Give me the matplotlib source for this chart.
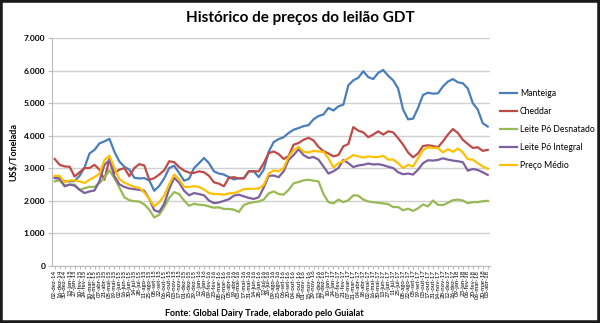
import datetime as dt
import matplotlib
matplotlib.use("Agg")
import matplotlib.pyplot as plt
from matplotlib.patches import Rectangle
from matplotlib.ticker import FuncFormatter

plt.rcParams['font.family'] = ['Lato', 'DejaVu Sans']

# precos por leilao (US$/t)
manteiga = [2720, 2690, 2590, 2590, 2600, 2760, 3020, 3450, 3560, 3760,
            3820, 3900, 3500, 3200, 3040, 2950, 2700, 2680, 2690, 2620,
            2300, 2450, 2680, 3000, 3070, 2850, 2610, 2670, 3000, 3150,
            3310, 3150, 2900, 2830, 2800, 2720, 2650, 2690, 2690, 2900,
            2900, 2720, 2950, 3500, 3800, 3890, 3950, 4080, 4180, 4230,
            4290, 4320, 4500, 4600, 4650, 4850, 4770, 4900, 4950, 5550,
            5700, 5780, 5980, 5800, 5740, 5930, 6020, 5840, 5700, 5450,
            4800, 4500, 4520, 4850, 5250, 5320, 5290, 5300, 5510, 5660,
            5740, 5640, 5610, 5450, 5000, 4800, 4380, 4280]
cheddar = [3280, 3100, 3050, 3040, 2740, 2870, 3000, 3000, 3100, 2950,
           2640, 3280, 2850, 2950, 3000, 2750, 3000, 3120, 3080, 2640,
           2690, 2800, 2930, 3210, 3180, 3030, 2920, 2860, 2850, 2900,
           2870, 2760, 2560, 2520, 2440, 2700, 2720, 2680, 2680, 2900,
           2900, 2900, 3150, 3460, 3510, 3430, 3280, 3370, 3720, 3770,
           3870, 3930, 3850, 3650, 3520, 3450, 3360, 3400, 3670, 3740,
           4260, 4150, 4100, 3950, 4030, 4130, 4030, 4130, 4100, 3920,
           3720, 3480, 3330, 3450, 3680, 3700, 3680, 3640, 3820, 4030,
           4200, 4080, 3870, 3740, 3620, 3640, 3530, 3560]
lpo_desnatado = [2590, 2620, 2460, 2490, 2490, 2330, 2380, 2420, 2420, 2540,
                 2700, 2930, 2690, 2400, 2100, 2010, 1980, 1970, 1880, 1720,
                 1480, 1560, 1800, 2080, 2260, 2200, 2000, 1840, 1900, 1870,
                 1860, 1820, 1780, 1790, 1740, 1740, 1720, 1650, 1860, 1920,
                 1950, 1970, 2030, 2220, 2280, 2200, 2180, 2330, 2530, 2570,
                 2620, 2640, 2610, 2590, 2200, 1950, 1910, 2030, 1950, 2010,
                 2160, 2150, 2030, 1970, 1950, 1930, 1910, 1890, 1800, 1800,
                 1700, 1750, 1680, 1760, 1880, 1820, 2000, 1870, 1860, 1930,
                 2010, 2030, 2000, 1920, 1950, 1950, 1980, 1990]
lpo_integral = [2690, 2670, 2440, 2490, 2460, 2330, 2230, 2280, 2310, 2600,
                3100, 3240, 2750, 2500, 2420, 2370, 2350, 2330, 2300, 2050,
                1700, 1650, 1900, 2350, 2700, 2550, 2300, 2160, 2230, 2200,
                2160, 2000, 1920, 1940, 1990, 2040, 2150, 2180, 2130, 2080,
                2050, 2100, 2400, 2760, 2770, 2720, 2900, 3250, 3400, 3580,
                3400, 3310, 3340, 3260, 3050, 2830, 2900, 3000, 3250, 3150,
                3030, 3080, 3100, 3140, 3110, 3120, 3090, 3040, 3000, 2870,
                2810, 2830, 2800, 2950, 3150, 3240, 3230, 3250, 3300, 3260,
                3230, 3210, 3180, 2920, 2970, 2940, 2870, 2790]
preco_medio = [2760, 2760, 2560, 2620, 2620, 2590, 2540, 2640, 2720, 2830,
               3250, 3380, 3000, 2660, 2550, 2480, 2420, 2390, 2250, 2050,
               1820, 1950, 2150, 2500, 2800, 2650, 2420, 2420, 2440, 2420,
               2340, 2230, 2200, 2200, 2180, 2220, 2230, 2280, 2350, 2360,
               2360, 2370, 2480, 2830, 2930, 2900, 3000, 3350, 3550, 3650,
               3500, 3480, 3530, 3510, 3500, 3300, 3020, 3150, 3210, 3300,
               3400, 3360, 3320, 3360, 3340, 3340, 3380, 3260, 3260, 3150,
               3000, 3100, 3050, 3300, 3550, 3640, 3620, 3620, 3480, 3580,
               3500, 3600, 3480, 3270, 3260, 3150, 3050, 2980]

series = [("Manteiga", manteiga, "#4A7EBB"),
          ("Cheddar", cheddar, "#BE4B48"),
          ("Leite Pó Desnatado", lpo_desnatado, "#98B954"),
          ("Leite Pó Integral", lpo_integral, "#7D60A0"),
          ("Preço Médio", preco_medio, "#FFC000")]

# datas dos leiloes (quinzenais)
meses = ["jan", "fev", "mar", "abr", "mai", "jun",
         "jul", "ago", "set", "out", "nov", "dez"]
inicio = dt.date(2014, 12, 2)
datas = []
for i in range(len(manteiga)):
    d = inicio + dt.timedelta(days=14 * i)
    datas.append("%02d-%s-%02d" % (d.day, meses[d.month - 1], d.year % 100))

fig = plt.figure(figsize=(6.0, 3.23), dpi=100)
ax = fig.add_axes([0.087, 0.178, 0.730, 0.704])

x = list(range(len(datas)))
for nome, vals, cor in series:
    ax.plot(x, vals, color=cor, lw=1.6, label=nome)

ax.set_ylim(0, 7000)
ax.set_xlim(-0.5, len(datas) - 0.5)
ax.set_yticks(range(0, 7001, 1000))
ax.yaxis.set_major_formatter(FuncFormatter(lambda v, p: f"{int(v):,}".replace(",", ".")))
ax.grid(axis="y", color="#d0d0d0", lw=1)
ax.set_axisbelow(True)
ax.set_xticks(x)
ax.set_xticklabels(datas, rotation=90, fontsize=4.4)
ax.tick_params(axis="y", labelsize=6, length=3, color="#bbbbbb", pad=2)
ax.tick_params(axis="x", length=2, color="#bbbbbb", pad=1)
for lbl in ax.get_yticklabels():
    lbl.set_fontweight("bold")
for s in ["top", "right"]:
    ax.spines[s].set_visible(False)
ax.spines["left"].set_color("#bbbbbb")
ax.spines["bottom"].set_color("#bbbbbb")

ax.set_ylabel("US$/Tonelada", fontsize=6.5, fontweight="bold", labelpad=4)

fig.text(0.5, 0.945, "Histórico de preços do leilão GDT", ha="center", va="center",
         fontsize=11, fontweight="bold")
fig.text(0.44, 0.03, "Fonte: Global Dairy Trade, elaborado pelo Guialat", ha="center",
         va="center", fontsize=6.5, fontweight="bold")

fig.legend(loc="upper left", bbox_to_anchor=(0.828, 0.735), frameon=False,
           fontsize=6.2, handlelength=2.0, handletextpad=0.3, labelspacing=1.05,
           borderaxespad=0)

fig.patches.append(Rectangle((0, 0), 1, 1, transform=fig.transFigure, fill=False,
                             edgecolor="#1a1a1a", lw=4))

fig.savefig("out.png", dpi=100)
